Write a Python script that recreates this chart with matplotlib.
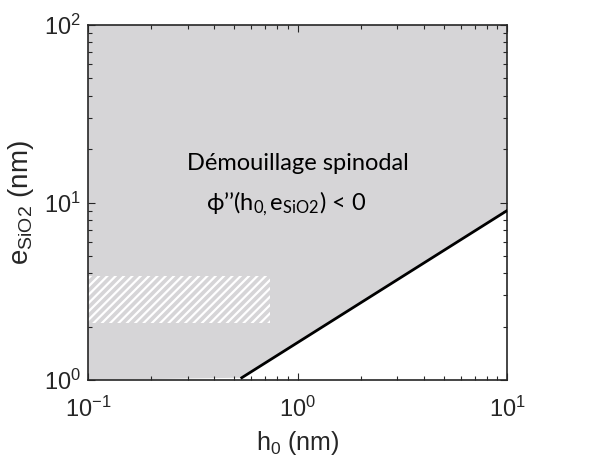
import numpy as np
import matplotlib
matplotlib.use('Agg')
import matplotlib.pyplot as plt

# spinodal boundary
h_line = [0.542, 10.0]
e_line = [1.03, 9.0]

# hatched zone
hatch_h = [0.1, 0.74]
hatch_e = [2.09, 3.85]

h_lim = [0.1, 10.0]
e_lim = [1.0, 100.0]

plt.rcParams['font.family'] = 'Liberation Sans'
plt.rcParams['mathtext.fontset'] = 'custom'
plt.rcParams['mathtext.rm'] = 'Liberation Sans'
plt.rcParams['mathtext.it'] = 'Liberation Sans'
plt.rcParams['hatch.linewidth'] = 1.6
plt.rcParams['hatch.color'] = 'white'

fig = plt.figure(figsize=(6.1, 4.67), dpi=100)
ax = fig.add_axes([88/610, 1 - 380/467, 419/610, 355/467])

gray = '#d6d5d7'
# spinodal region: everything above the line
poly_h = [h_lim[0], h_line[0], h_line[1], h_lim[1], h_lim[0]]
poly_e = [e_lim[0], e_line[0], e_line[1], e_lim[1], e_lim[1]]
ax.fill(poly_h, poly_e, color=gray, lw=0, zorder=1)

ax.fill([hatch_h[0], hatch_h[1], hatch_h[1], hatch_h[0]],
        [hatch_e[0], hatch_e[0], hatch_e[1], hatch_e[1]],
        facecolor=gray, edgecolor='white', hatch='////', lw=0, zorder=2)

ax.plot(h_line, e_line, color='black', lw=2, zorder=3)

ax.set_xscale('log')
ax.set_yscale('log')
ax.set_xlim(h_lim)
ax.set_ylim(e_lim)

ax.tick_params(which='both', direction='in', top=True, right=True,
               labelsize=17, colors='#262626')
ax.tick_params(axis='x', pad=12)
ax.tick_params(axis='y', pad=5)
ax.tick_params(which='major', length=5, width=0.8)
ax.tick_params(which='minor', length=3, width=0.8)
for s in ax.spines.values():
    s.set_linewidth(1.2)
    s.set_color('#262626')

ax.set_xticks([0.1, 1, 10])
ax.set_xticklabels(['$10^{-1}$', '$10^{0}$', '$10^{1}$'])
ax.set_yticks([1, 10, 100])
ax.set_yticklabels(['$10^{0}$', '$10^{1}$', '$10^{2}$'])

ax.set_xlabel('$\\mathregular{h_0}$ (nm)', fontsize=18, color='#262626', labelpad=5)
ax.set_ylabel('$\\mathregular{e_{SiO2}}$ (nm)', fontsize=20, color='#262626', labelpad=6)

ax.text(0.5, 0.61, 'Démouillage spinodal', transform=ax.transAxes,
        fontsize=17, family='Lato', ha='center', va='center', zorder=4)
ax.text(0.472, 0.497, 'ϕ’’(h$_{\\mathregular{0,}}$e$_{\\mathregular{SiO2}}$) < 0',
        transform=ax.transAxes, fontsize=17, family=['Lato', 'DejaVu Sans'],
        ha='center', va='center', zorder=4)

fig.savefig('out.png', dpi=100)
